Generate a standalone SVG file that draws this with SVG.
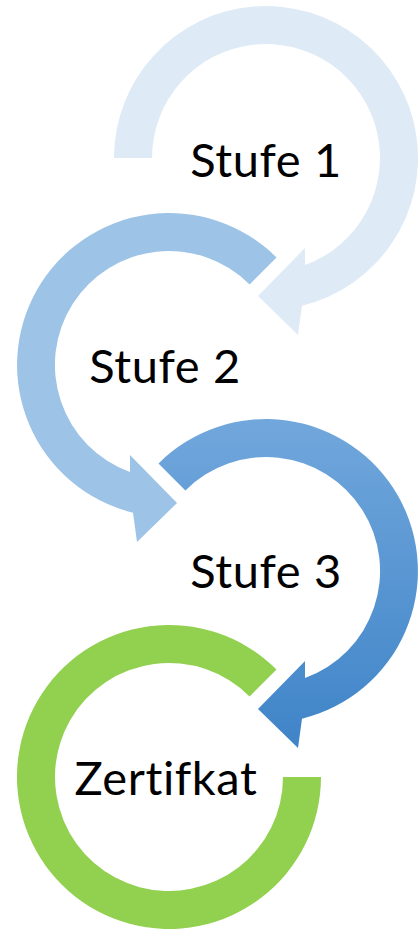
<svg xmlns="http://www.w3.org/2000/svg" width="419" height="929" viewBox="0 0 419 929">
<style>
.lbl{font-family:Lato,"Noto Sans","Liberation Sans",sans-serif;font-size:47px;letter-spacing:0.6px;fill:#000;text-anchor:middle}
</style>
<defs>
<linearGradient id="g3" x1="0" y1="0" x2="0" y2="1">
<stop offset="0" stop-color="#71a7dc"/>
<stop offset="1" stop-color="#3f84c8"/>
</linearGradient>
</defs>
<rect width="419" height="929" fill="#fff"/>
<g id="stufe1">
<path d="M114 158 A152 152 0 1 1 302 305.7 L298 335 L258 296 L305 248 L305 265.1 A114 114 0 1 0 152 158 Z" fill="#deeaf6"/>
<text class="lbl" x="266" y="177">Stufe 1</text>
</g>
<g id="stufe2">
<path d="M276.5 257.5 A152 152 0 1 0 133 512.7 L137 542 L177 503 L130 455 L130 472.1 A114 114 0 1 1 249.6 284.4 Z" fill="#9dc3e6"/>
<text class="lbl" x="165" y="383">Stufe 2</text>
</g>
<g id="stufe3">
<path d="M158.5 463.5 A152 152 0 1 1 302 718.7 L298 748 L258 709 L305 661 L305 678.1 A114 114 0 1 0 185.4 490.4 Z" fill="url(#g3)"/>
<text class="lbl" x="266" y="588">Stufe 3</text>
</g>
<g id="zertifikat">
<path d="M321 777 A152 152 0 1 1 276.5 669.5 L249.6 696.4 A114 114 0 1 0 283 777 Z" fill="#92d050"/>
<text class="lbl" x="166" y="795">Zertifkat</text>
</g>
<g id="connectors"></g>
</svg>
